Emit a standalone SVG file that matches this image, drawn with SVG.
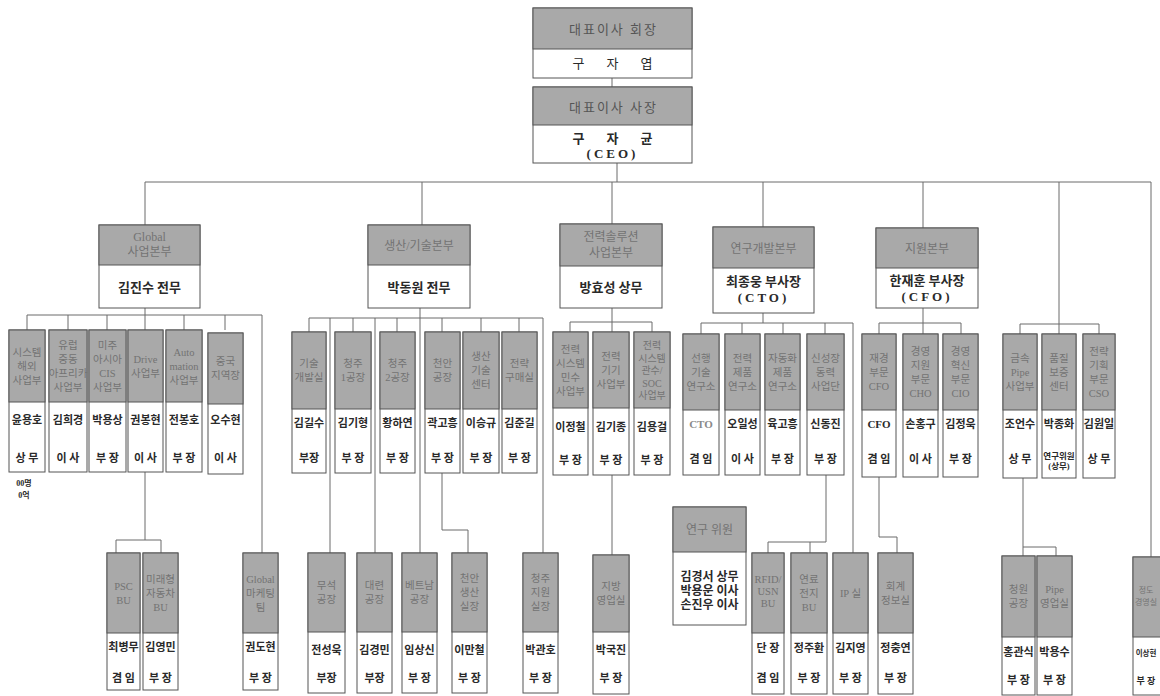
<svg xmlns="http://www.w3.org/2000/svg" width="1160" height="696" viewBox="0 0 1160 696">
<style>
.bx{fill:#fff;stroke:#555;stroke-width:1}
.hd{fill:#a9a9a9;stroke:#555;stroke-width:1}
text{font-family:"Liberation Serif","Noto Sans CJK KR",serif;text-anchor:middle}
.ht{font-size:10.5px;fill:#737373}
.hb{font-size:12px;fill:#737373}
.nm{font-size:11px;font-weight:bold;fill:#2a2a2a}
.tt{font-size:11px;font-weight:bold;fill:#2a2a2a}
.nb{font-size:13px;font-weight:bold;fill:#2a2a2a}
.sm{font-size:8px;font-weight:bold;fill:#2a2a2a}
.gl{fill:#8a8a8a}
.top{font-size:13px;fill:#555;letter-spacing:2px}
.big{font-size:13px;fill:#2a2a2a;letter-spacing:22px}
#conn line,#conn polyline{stroke:#6a6a6a;stroke-width:1;fill:none}
</style>
<rect width="1160" height="696" fill="#fff"/>
<g id="conn">
<line x1="612" y1="78" x2="612" y2="87"/>
<line x1="617" y1="163" x2="617" y2="182"/>
<line x1="145" y1="182" x2="1151" y2="182"/>
<line x1="145" y1="182" x2="145" y2="225"/>
<line x1="422" y1="182" x2="422" y2="225"/>
<line x1="612" y1="182" x2="612" y2="224"/>
<line x1="763" y1="182" x2="763" y2="227"/>
<line x1="923" y1="182" x2="923" y2="228"/>
<line x1="1059" y1="182" x2="1059" y2="334"/>
<line x1="1151" y1="182" x2="1151" y2="557"/>
<line x1="145" y1="308" x2="145" y2="330"/>
<line x1="27" y1="315" x2="262" y2="315"/>
<line x1="27" y1="315" x2="27" y2="330"/>
<line x1="68" y1="315" x2="68" y2="330"/>
<line x1="107" y1="315" x2="107" y2="330"/>
<line x1="184" y1="315" x2="184" y2="330"/>
<line x1="225" y1="315" x2="225" y2="330"/>
<line x1="262" y1="315" x2="262" y2="553"/>
<line x1="145" y1="472" x2="145" y2="540"/>
<polyline points="116,553 116,540 161,540 161,553"/>
<line x1="420" y1="308" x2="420" y2="553"/>
<line x1="309" y1="318" x2="543" y2="318"/>
<line x1="309" y1="318" x2="309" y2="332"/>
<line x1="353" y1="318" x2="353" y2="332"/>
<line x1="397" y1="318" x2="397" y2="332"/>
<line x1="442" y1="318" x2="442" y2="332"/>
<line x1="481" y1="318" x2="481" y2="332"/>
<line x1="519" y1="318" x2="519" y2="332"/>
<line x1="330" y1="318" x2="330" y2="553"/>
<line x1="375" y1="318" x2="375" y2="553"/>
<line x1="543" y1="318" x2="543" y2="553"/>
<polyline points="442,473 442,530 468,530 468,553"/>
<line x1="612" y1="308" x2="612" y2="332"/>
<line x1="570" y1="322" x2="652" y2="322"/>
<line x1="570" y1="322" x2="570" y2="332"/>
<line x1="652" y1="322" x2="652" y2="332"/>
<line x1="612" y1="475" x2="612" y2="555"/>
<line x1="763" y1="313" x2="763" y2="323"/>
<line x1="701" y1="323" x2="853" y2="323"/>
<line x1="701" y1="323" x2="701" y2="334"/>
<line x1="742" y1="323" x2="742" y2="334"/>
<line x1="783" y1="323" x2="783" y2="334"/>
<line x1="825" y1="323" x2="825" y2="334"/>
<line x1="853" y1="323" x2="853" y2="553"/>
<line x1="826" y1="475" x2="826" y2="542"/>
<polyline points="768,553 768,542 826,542"/>
<line x1="810" y1="542" x2="810" y2="553"/>
<line x1="923" y1="308" x2="923" y2="334"/>
<line x1="879" y1="323" x2="961" y2="323"/>
<line x1="879" y1="323" x2="879" y2="334"/>
<line x1="961" y1="323" x2="961" y2="334"/>
<polyline points="879,477 879,537 897,537 897,553"/>
<line x1="1020" y1="324" x2="1099" y2="324"/>
<line x1="1020" y1="324" x2="1020" y2="334"/>
<line x1="1099" y1="324" x2="1099" y2="334"/>
<line x1="1023" y1="478" x2="1023" y2="556"/>
<polyline points="1023,547 1056,547 1056,556"/>
</g>

<g id="n-chair">
<rect class="bx" x="533" y="8" width="159" height="70"/>
<rect class="hd" x="533" y="8" width="159" height="41"/>
<text class="top" x="613.5" y="34">대표이사  회장</text>
<text class="big" x="623.5" y="68">구자엽</text>
</g>
<g id="n-ceo">
<rect class="bx" x="533" y="87" width="159" height="76"/>
<rect class="hd" x="533" y="87" width="159" height="38"/>
<text class="top" x="613.5" y="112">대표이사  사장</text>
<text class="big" x="623.5" y="143" font-weight="bold">구자균</text>
<text class="nb" x="612.5" y="158" letter-spacing="3">(CEO)</text>
</g>

<g id="n-global">
<rect class="bx" x="99" y="225" width="101" height="83"/>
<rect class="hd" x="99" y="225" width="101" height="40"/>
<text class="hb"><tspan x="149.5" y="241">Global</tspan><tspan x="149.5" y="256">사업본부</tspan></text>
<text class="nb" x="149.5" y="292">김진수 전무</text>
</g>
<g id="n-prod">
<rect class="bx" x="368" y="225" width="102" height="83"/>
<rect class="hd" x="368" y="225" width="102" height="40"/>
<text class="hb" x="419" y="250">생산/기술본부</text>
<text class="nb" x="419" y="292">박동원 전무</text>
</g>
<g id="n-power">
<rect class="bx" x="560" y="224" width="102" height="84"/>
<rect class="hd" x="560" y="224" width="102" height="42"/>
<text class="hb"><tspan x="611" y="241">전력솔루션</tspan><tspan x="611" y="257">사업본부</tspan></text>
<text class="nb" x="611" y="292">방효성 상무</text>
</g>
<g id="n-rnd">
<rect class="bx" x="713" y="227" width="101" height="86"/>
<rect class="hd" x="713" y="227" width="101" height="41"/>
<text class="hb" x="763.5" y="253">연구개발본부</text>
<text class="nb" x="763.5" y="286">최종웅 부사장</text>
<text class="nb" x="763.5" y="302" letter-spacing="3">(CTO)</text>
</g>
<g id="n-support">
<rect class="bx" x="876" y="228" width="102" height="80"/>
<rect class="hd" x="876" y="228" width="102" height="40"/>
<text class="hb" x="927" y="253">지원본부</text>
<text class="nb" x="927" y="285">한재훈 부사장</text>
<text class="nb" x="927" y="301" letter-spacing="3">(CFO)</text>
</g>

<g id="g1"><rect class="bx" x="9" y="330" width="36" height="142"/><rect class="hd" x="9" y="330" width="36" height="72"/>
<text class="ht"><tspan x="27" y="356">시스템</tspan><tspan x="27" y="370">해외</tspan><tspan x="27" y="384">사업부</tspan></text>
<text class="nm" x="27" y="424">윤용호</text><text class="tt" x="27" y="462">상 무</text></g>
<g id="g2"><rect class="bx" x="49" y="330" width="38" height="142"/><rect class="hd" x="49" y="330" width="38" height="72"/>
<text class="ht"><tspan x="68" y="349">유럽</tspan><tspan x="68" y="363">중동</tspan><tspan x="68" y="377">아프리카</tspan><tspan x="68" y="391">사업부</tspan></text>
<text class="nm" x="68" y="424">김희경</text><text class="tt" x="68" y="462">이 사</text></g>
<g id="g3"><rect class="bx" x="89" y="330" width="37" height="142"/><rect class="hd" x="89" y="330" width="37" height="72"/>
<text class="ht"><tspan x="107.5" y="349">미주</tspan><tspan x="107.5" y="363">아시아</tspan><tspan x="107.5" y="377">CIS</tspan><tspan x="107.5" y="391">사업부</tspan></text>
<text class="nm" x="107.5" y="424">박용상</text><text class="tt" x="107.5" y="462">부 장</text></g>
<g id="g4"><rect class="bx" x="128" y="330" width="35" height="142"/><rect class="hd" x="128" y="330" width="35" height="72"/>
<text class="ht"><tspan x="145.5" y="363">Drive</tspan><tspan x="145.5" y="377">사업부</tspan></text>
<text class="nm" x="145.5" y="424">권봉현</text><text class="tt" x="145.5" y="462">이 사</text></g>
<g id="g5"><rect class="bx" x="166" y="330" width="36" height="142"/><rect class="hd" x="166" y="330" width="36" height="72"/>
<text class="ht"><tspan x="184" y="356">Auto</tspan><tspan x="184" y="370">mation</tspan><tspan x="184" y="384">사업부</tspan></text>
<text class="nm" x="184" y="424">전봉호</text><text class="tt" x="184" y="462">부 장</text></g>
<g id="g6"><rect class="bx" x="208" y="333" width="35" height="141"/><rect class="hd" x="208" y="333" width="35" height="71"/>
<text class="ht"><tspan x="225.5" y="365">중국</tspan><tspan x="225.5" y="379">지역장</tspan></text>
<text class="nm" x="225.5" y="424">오수현</text><text class="tt" x="225.5" y="462">이 사</text></g>
<g id="note"><text class="sm" x="24" y="486">00명</text><text class="sm" x="24" y="498">0억</text></g>
<g id="g-psc"><rect class="bx" x="107" y="553" width="33" height="137"/><rect class="hd" x="107" y="553" width="33" height="80"/>
<text class="ht"><tspan x="123.5" y="590">PSC</tspan><tspan x="123.5" y="604">BU</tspan></text>
<text class="nm" x="123.5" y="651">최병무</text><text class="tt" x="123.5" y="682">겸 임</text></g>
<g id="g-future"><rect class="bx" x="143" y="553" width="35" height="137"/><rect class="hd" x="143" y="553" width="35" height="80"/>
<text class="ht"><tspan x="160.5" y="583">미래형</tspan><tspan x="160.5" y="597">자동차</tspan><tspan x="160.5" y="611">BU</tspan></text>
<text class="nm" x="160.5" y="651">김영민</text><text class="tt" x="160.5" y="682">부 장</text></g>
<g id="g-mkt"><rect class="bx" x="243" y="553" width="35" height="137"/><rect class="hd" x="243" y="553" width="35" height="80"/>
<text class="ht"><tspan x="260.5" y="583">Global</tspan><tspan x="260.5" y="597">마케팅</tspan><tspan x="260.5" y="611">팀</tspan></text>
<text class="nm" x="260.5" y="651">권도현</text><text class="tt" x="260.5" y="682">부 장</text></g>

<g id="p1"><rect class="bx" x="292" y="332" width="34" height="141"/><rect class="hd" x="292" y="332" width="34" height="77"/>
<text class="ht"><tspan x="309" y="367">기술</tspan><tspan x="309" y="381">개발실</tspan></text>
<text class="nm" x="309" y="427">김길수</text><text class="tt" x="309" y="462">부장</text></g>
<g id="p2"><rect class="bx" x="335" y="332" width="36" height="141"/><rect class="hd" x="335" y="332" width="36" height="77"/>
<text class="ht"><tspan x="353" y="367">청주</tspan><tspan x="353" y="381">1공장</tspan></text>
<text class="nm" x="353" y="427">김기형</text><text class="tt" x="353" y="462">부 장</text></g>
<g id="p3"><rect class="bx" x="380" y="332" width="35" height="141"/><rect class="hd" x="380" y="332" width="35" height="77"/>
<text class="ht"><tspan x="397.5" y="367">청주</tspan><tspan x="397.5" y="381">2공장</tspan></text>
<text class="nm" x="397.5" y="427">황하연</text><text class="tt" x="397.5" y="462">부 장</text></g>
<g id="p4"><rect class="bx" x="425" y="332" width="35" height="141"/><rect class="hd" x="425" y="332" width="35" height="77"/>
<text class="ht"><tspan x="442.5" y="367">천안</tspan><tspan x="442.5" y="381">공장</tspan></text>
<text class="nm" x="442.5" y="427">곽고흥</text><text class="tt" x="442.5" y="462">부 장</text></g>
<g id="p5"><rect class="bx" x="463" y="332" width="36" height="141"/><rect class="hd" x="463" y="332" width="36" height="77"/>
<text class="ht"><tspan x="481" y="360">생산</tspan><tspan x="481" y="374">기술</tspan><tspan x="481" y="388">센터</tspan></text>
<text class="nm" x="481" y="427">이승규</text><text class="tt" x="481" y="462">부 장</text></g>
<g id="p6"><rect class="bx" x="502" y="332" width="35" height="141"/><rect class="hd" x="502" y="332" width="35" height="77"/>
<text class="ht"><tspan x="519.5" y="367">전략</tspan><tspan x="519.5" y="381">구매실</tspan></text>
<text class="nm" x="519.5" y="427">김준길</text><text class="tt" x="519.5" y="462">부 장</text></g>
<g id="l1"><rect class="bx" x="308" y="553" width="37" height="140"/><rect class="hd" x="308" y="553" width="37" height="79"/>
<text class="ht"><tspan x="326.5" y="589">무석</tspan><tspan x="326.5" y="603">공장</tspan></text>
<text class="nm" x="326.5" y="654">전성욱</text><text class="tt" x="326.5" y="682">부장</text></g>
<g id="l2"><rect class="bx" x="357" y="553" width="35" height="140"/><rect class="hd" x="357" y="553" width="35" height="79"/>
<text class="ht"><tspan x="374.5" y="589">대련</tspan><tspan x="374.5" y="603">공장</tspan></text>
<text class="nm" x="374.5" y="654">김경민</text><text class="tt" x="374.5" y="682">부장</text></g>
<g id="l3"><rect class="bx" x="402" y="553" width="35" height="140"/><rect class="hd" x="402" y="553" width="35" height="79"/>
<text class="ht"><tspan x="419.5" y="589">베트남</tspan><tspan x="419.5" y="603">공장</tspan></text>
<text class="nm" x="419.5" y="654">임상신</text><text class="tt" x="419.5" y="682">부 장</text></g>
<g id="l4"><rect class="bx" x="452" y="553" width="35" height="140"/><rect class="hd" x="452" y="553" width="35" height="79"/>
<text class="ht"><tspan x="469.5" y="582">천안</tspan><tspan x="469.5" y="596">생산</tspan><tspan x="469.5" y="610">실장</tspan></text>
<text class="nm" x="469.5" y="654">이만철</text><text class="tt" x="469.5" y="682">부 장</text></g>
<g id="l5"><rect class="bx" x="523" y="553" width="35" height="140"/><rect class="hd" x="523" y="553" width="35" height="79"/>
<text class="ht"><tspan x="540.5" y="582">청주</tspan><tspan x="540.5" y="596">지원</tspan><tspan x="540.5" y="610">실장</tspan></text>
<text class="nm" x="540.5" y="654">박관호</text><text class="tt" x="540.5" y="682">부 장</text></g>

<g id="e1"><rect class="bx" x="553" y="332" width="35" height="143"/><rect class="hd" x="553" y="332" width="35" height="76"/>
<text class="ht"><tspan x="570.5" y="353">전력</tspan><tspan x="570.5" y="367">시스템</tspan><tspan x="570.5" y="381">민수</tspan><tspan x="570.5" y="395">사업부</tspan></text>
<text class="nm" x="570.5" y="431">이정철</text><text class="tt" x="570.5" y="464">부 장</text></g>
<g id="e2"><rect class="bx" x="593" y="332" width="36" height="143"/><rect class="hd" x="593" y="332" width="36" height="76"/>
<text class="ht"><tspan x="611" y="360">전력</tspan><tspan x="611" y="374">기기</tspan><tspan x="611" y="388">사업부</tspan></text>
<text class="nm" x="611" y="431">김기종</text><text class="tt" x="611" y="464">부 장</text></g>
<g id="e3"><rect class="bx" x="634" y="332" width="36" height="143"/><rect class="hd" x="634" y="332" width="36" height="76"/>
<text class="ht" style="font-size:10px"><tspan x="652" y="349">전력</tspan><tspan x="652" y="361.5">시스템</tspan><tspan x="652" y="374">관수/</tspan><tspan x="652" y="386.5">SOC</tspan><tspan x="652" y="399">사업부</tspan></text>
<text class="nm" x="652" y="431">김용걸</text><text class="tt" x="652" y="464">부 장</text></g>
<g id="e4"><rect class="bx" x="593" y="555" width="36" height="139"/><rect class="hd" x="593" y="555" width="36" height="77"/>
<text class="ht"><tspan x="611" y="590">지방</tspan><tspan x="611" y="604">영업실</tspan></text>
<text class="nm" x="611" y="654">박국진</text><text class="tt" x="611" y="682">부 장</text></g>

<g id="r1"><rect class="bx" x="683" y="334" width="36" height="141"/><rect class="hd" x="683" y="334" width="36" height="76"/>
<text class="ht"><tspan x="701" y="362">선행</tspan><tspan x="701" y="376">기술</tspan><tspan x="701" y="390">연구소</tspan></text>
<text class="nm gl" x="701" y="428">CTO</text><text class="tt" x="701" y="463">겸 임</text></g>
<g id="r2"><rect class="bx" x="725" y="334" width="35" height="141"/><rect class="hd" x="725" y="334" width="35" height="76"/>
<text class="ht"><tspan x="742.5" y="362">전력</tspan><tspan x="742.5" y="376">제품</tspan><tspan x="742.5" y="390">연구소</tspan></text>
<text class="nm" x="742.5" y="428">오일성</text><text class="tt" x="742.5" y="463">이 사</text></g>
<g id="r3"><rect class="bx" x="765" y="334" width="35" height="141"/><rect class="hd" x="765" y="334" width="35" height="76"/>
<text class="ht"><tspan x="782.5" y="362">자동화</tspan><tspan x="782.5" y="376">제품</tspan><tspan x="782.5" y="390">연구소</tspan></text>
<text class="nm" x="782.5" y="428">육고흥</text><text class="tt" x="782.5" y="463">부 장</text></g>
<g id="r4"><rect class="bx" x="807" y="334" width="37" height="141"/><rect class="hd" x="807" y="334" width="37" height="76"/>
<text class="ht"><tspan x="825.5" y="362">신성장</tspan><tspan x="825.5" y="376">동력</tspan><tspan x="825.5" y="390">사업단</tspan></text>
<text class="nm" x="825.5" y="428">신동진</text><text class="tt" x="825.5" y="463">부 장</text></g>
<g id="r-fellow"><rect class="bx" x="673" y="507" width="73" height="118"/><rect class="hd" x="673" y="507" width="73" height="45"/>
<text class="hb" x="709.5" y="534">연구 위원</text>
<text class="nm" style="font-size:12px"><tspan x="709.5" y="581">김경서 상무</tspan><tspan x="709.5" y="595">박용운 이사</tspan><tspan x="709.5" y="609">손진우 이사</tspan></text></g>
<g id="r5"><rect class="bx" x="752" y="553" width="32" height="141"/><rect class="hd" x="752" y="553" width="32" height="80"/>
<text class="ht"><tspan x="768" y="583">RFID/</tspan><tspan x="768" y="595">USN</tspan><tspan x="768" y="607">BU</tspan></text>
<text class="nm" x="768" y="652">단 장</text><text class="tt" x="768" y="682">겸 임</text></g>
<g id="r6"><rect class="bx" x="791" y="553" width="36" height="141"/><rect class="hd" x="791" y="553" width="36" height="80"/>
<text class="ht"><tspan x="809" y="583">연료</tspan><tspan x="809" y="597">전지</tspan><tspan x="809" y="611">BU</tspan></text>
<text class="nm" x="809" y="652">정주환</text><text class="tt" x="809" y="682">부 장</text></g>
<g id="r7"><rect class="bx" x="833" y="553" width="35" height="141"/><rect class="hd" x="833" y="553" width="35" height="80"/>
<text class="ht" x="850.5" y="597">IP 실</text>
<text class="nm" x="850.5" y="652">김지영</text><text class="tt" x="850.5" y="682">부 장</text></g>

<g id="s1"><rect class="bx" x="862" y="334" width="34" height="143"/><rect class="hd" x="862" y="334" width="34" height="76"/>
<text class="ht"><tspan x="879" y="362">재경</tspan><tspan x="879" y="376">부문</tspan><tspan x="879" y="390">CFO</tspan></text>
<text class="nm" x="879" y="428">CFO</text><text class="tt" x="879" y="463">겸 임</text></g>
<g id="s2"><rect class="bx" x="903" y="334" width="35" height="143"/><rect class="hd" x="903" y="334" width="35" height="76"/>
<text class="ht"><tspan x="920.5" y="355">경영</tspan><tspan x="920.5" y="369">지원</tspan><tspan x="920.5" y="383">부문</tspan><tspan x="920.5" y="397">CHO</tspan></text>
<text class="nm" x="920.5" y="428">손홍구</text><text class="tt" x="920.5" y="463">이 사</text></g>
<g id="s3"><rect class="bx" x="943" y="334" width="35" height="143"/><rect class="hd" x="943" y="334" width="35" height="76"/>
<text class="ht"><tspan x="960.5" y="355">경영</tspan><tspan x="960.5" y="369">혁신</tspan><tspan x="960.5" y="383">부문</tspan><tspan x="960.5" y="397">CIO</tspan></text>
<text class="nm" x="960.5" y="428">김정욱</text><text class="tt" x="960.5" y="463">부 장</text></g>
<g id="s4"><rect class="bx" x="878" y="553" width="35" height="141"/><rect class="hd" x="878" y="553" width="35" height="80"/>
<text class="ht"><tspan x="895.5" y="590">회계</tspan><tspan x="895.5" y="604">정보실</tspan></text>
<text class="nm" x="895.5" y="652">정충연</text><text class="tt" x="895.5" y="682">부 장</text></g>

<g id="t1"><rect class="bx" x="1003" y="334" width="34" height="144"/><rect class="hd" x="1003" y="334" width="34" height="76"/>
<text class="ht"><tspan x="1020" y="362">금속</tspan><tspan x="1020" y="376">Pipe</tspan><tspan x="1020" y="390">사업부</tspan></text>
<text class="nm" x="1020" y="428">조언수</text><text class="tt" x="1020" y="463">상 무</text></g>
<g id="t2"><rect class="bx" x="1042" y="334" width="34" height="144"/><rect class="hd" x="1042" y="334" width="34" height="76"/>
<text class="ht"><tspan x="1059" y="362">품질</tspan><tspan x="1059" y="376">보증</tspan><tspan x="1059" y="390">센터</tspan></text>
<text class="nm" x="1059" y="428">박종화</text>
<text class="sm" style="font-size:8.5px"><tspan x="1059" y="459">연구위원</tspan><tspan x="1059" y="469">(상무)</tspan></text></g>
<g id="t3"><rect class="bx" x="1083" y="334" width="32" height="144"/><rect class="hd" x="1083" y="334" width="32" height="76"/>
<text class="ht"><tspan x="1099" y="355">전략</tspan><tspan x="1099" y="369">기획</tspan><tspan x="1099" y="383">부문</tspan><tspan x="1099" y="397">CSO</tspan></text>
<text class="nm" x="1099" y="428">김원일</text><text class="tt" x="1099" y="463">상 무</text></g>
<g id="t4"><rect class="bx" x="1002" y="556" width="33" height="139"/><rect class="hd" x="1002" y="556" width="33" height="81"/>
<text class="ht"><tspan x="1018.5" y="593">청원</tspan><tspan x="1018.5" y="607">공장</tspan></text>
<text class="nm" x="1018.5" y="656">홍관식</text><text class="tt" x="1018.5" y="684">부 장</text></g>
<g id="t5"><rect class="bx" x="1037" y="556" width="35" height="139"/><rect class="hd" x="1037" y="556" width="35" height="81"/>
<text class="ht"><tspan x="1054.5" y="593">Pipe</tspan><tspan x="1054.5" y="607">영업실</tspan></text>
<text class="nm" x="1054.5" y="656">박용수</text><text class="tt" x="1054.5" y="684">부 장</text></g>
<g id="t6"><rect class="bx" x="1133" y="557" width="40" height="138"/><rect class="hd" x="1133" y="557" width="40" height="80"/>
<text class="ht" style="font-size:8px"><tspan x="1146" y="593">정도</tspan><tspan x="1146" y="605">경영실</tspan></text>
<text class="nm" x="1146" y="656" style="font-size:7.5px">이상현</text><text class="tt" x="1146" y="684" style="font-size:9px">부 장</text></g>
</svg>
